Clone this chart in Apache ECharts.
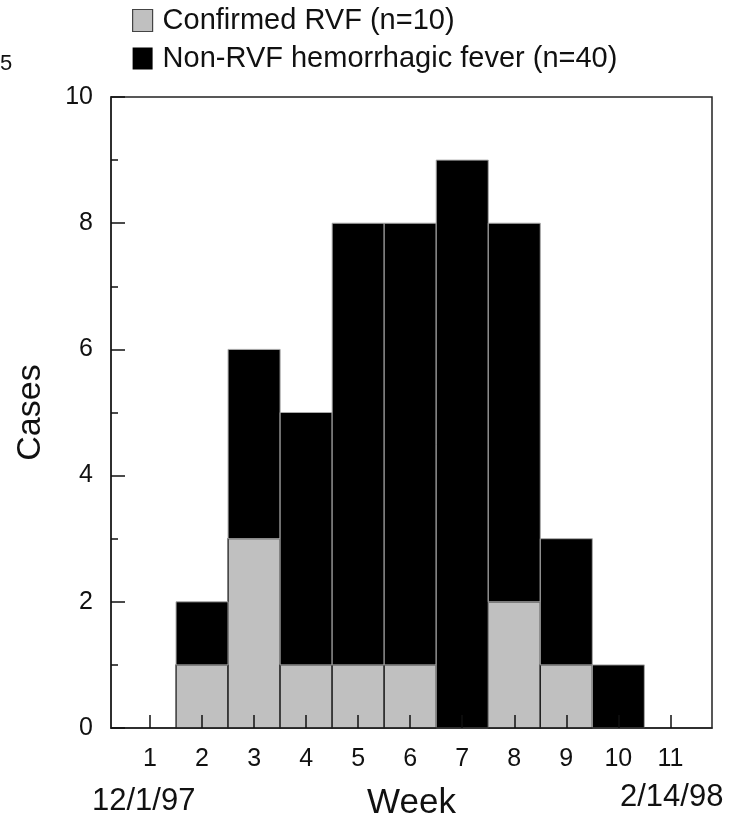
<!DOCTYPE html>
<html><head><meta charset="utf-8">
<script src="https://cdn.jsdelivr.net/npm/echarts@6/dist/echarts.min.js"></script>
<style>html,body{margin:0;padding:0;background:#fff}#c{width:737px;height:821px}</style>
</head><body><div id="c"></div>
<script>
const weeks = [1, 2, 3, 4, 5, 6, 7, 8, 9, 10, 11];
const confirmedRVF = [0, 1, 3, 1, 1, 1, 0, 2, 1, 0, 0];
const nonRVF = [0, 1, 3, 4, 7, 7, 9, 6, 2, 1, 0];
const yTicks = [0, 2, 4, 6, 8, 10];
const seriesNames = ['Confirmed RVF (n=10)', 'Non-RVF hemorrhagic fever (n=40)'];
const startLabel = '12/1/97';
const endLabel = '2/14/98';

const FONT = '"Liberation Sans", Arial, sans-serif';
const grayData = [], blackData = [];
weeks.forEach((w, i) => {
  if (confirmedRVF[i] > 0) grayData.push([w, 0, confirmedRVF[i]]);
  if (nonRVF[i] > 0) blackData.push([w, confirmedRVF[i], confirmedRVF[i] + nonRVF[i]]);
});
function renderItem(params, api) {
  const x = api.value(0), y0 = api.value(1), y1 = api.value(2);
  const p0 = api.coord([x - 0.5, y1]);
  const p1 = api.coord([x + 0.5, y0]);
  return {type: 'rect', shape: {x: p0[0], y: p0[1], width: p1[0] - p0[0], height: p1[1] - p0[1]}, style: api.style()};
}
const chart = echarts.init(document.getElementById('c'));
chart.setOption({
  animation: false,
  backgroundColor: '#fff',
  textStyle: {fontFamily: FONT},
  grid: {left: 111, right: 25, top: 97, bottom: 93, show: true, borderColor: '#222', borderWidth: 1.5,
         backgroundColor: 'transparent', containLabel: false, outerBoundsMode: 'none'},
  legend: {
    orient: 'vertical', left: 127, top: 1, itemWidth: 20, itemHeight: 22, itemGap: 9,
    textStyle: {fontFamily: FONT, fontSize: 29, color: '#111', padding: [0, 0, 0, 5]},
    data: [
      {name: seriesNames[0], icon: 'rect', itemStyle: {color: '#c0c0c0', borderColor: '#444', borderWidth: 1.2}},
      {name: seriesNames[1], icon: 'rect', itemStyle: {color: '#000', borderColor: '#000', borderWidth: 0}}
    ]
  },
  xAxis: {
    type: 'value', min: 0.25, max: 11.8, z: 10,
    splitLine: {show: false},
    axisLine: {show: true, onZero: false, lineStyle: {color: '#222', width: 1.5}},
    axisTick: {show: true, inside: true, length: 13, customValues: weeks, lineStyle: {color: '#111', width: 1.5}},
    axisLabel: {customValues: weeks, fontSize: 25, color: '#111', margin: 19, fontFamily: FONT},
    name: 'Week', nameLocation: 'middle', nameGap: 58,
    nameTextStyle: {fontSize: 35, color: '#111', fontFamily: FONT}
  },
  yAxis: {
    type: 'value', min: 0, max: 10, interval: 2, z: 10,
    splitLine: {show: false},
    axisLine: {show: true, lineStyle: {color: '#222', width: 1.5}},
    axisTick: {show: true, inside: true, length: 14, customValues: yTicks, lineStyle: {color: '#111', width: 1.5}},
    minorTick: {show: true, splitNumber: 2, length: 7, lineStyle: {color: '#111', width: 1.5}},
    axisLabel: {customValues: yTicks, fontSize: 25, color: '#111', margin: 18, fontFamily: FONT},
    name: 'Cases', nameLocation: 'middle', nameGap: 63, nameRotate: 90,
    nameTextStyle: {fontSize: 34, color: '#111', fontFamily: FONT}
  },
  graphic: [
    {type: 'text', left: 92, top: 786, style: {text: startLabel, font: '31px ' + FONT, fill: '#111'}},
    {type: 'text', left: 620, top: 782, style: {text: endLabel, font: '31px ' + FONT, fill: '#111'}},
    {type: 'text', left: 0, top: 53, style: {text: '5', font: '22px ' + FONT, fill: '#111'}}
  ],
  series: [
    {name: seriesNames[0], type: 'custom', renderItem, encode: {x: 0, y: [1, 2]}, data: grayData,
     itemStyle: {color: '#c0c0c0', borderColor: '#111', borderWidth: 1.2}, z: 2},
    {name: seriesNames[1], type: 'custom', renderItem, encode: {x: 0, y: [1, 2]}, data: blackData,
     itemStyle: {color: '#000', borderColor: '#aaa', borderWidth: 1}, z: 2}
  ]
});
</script></body></html>
